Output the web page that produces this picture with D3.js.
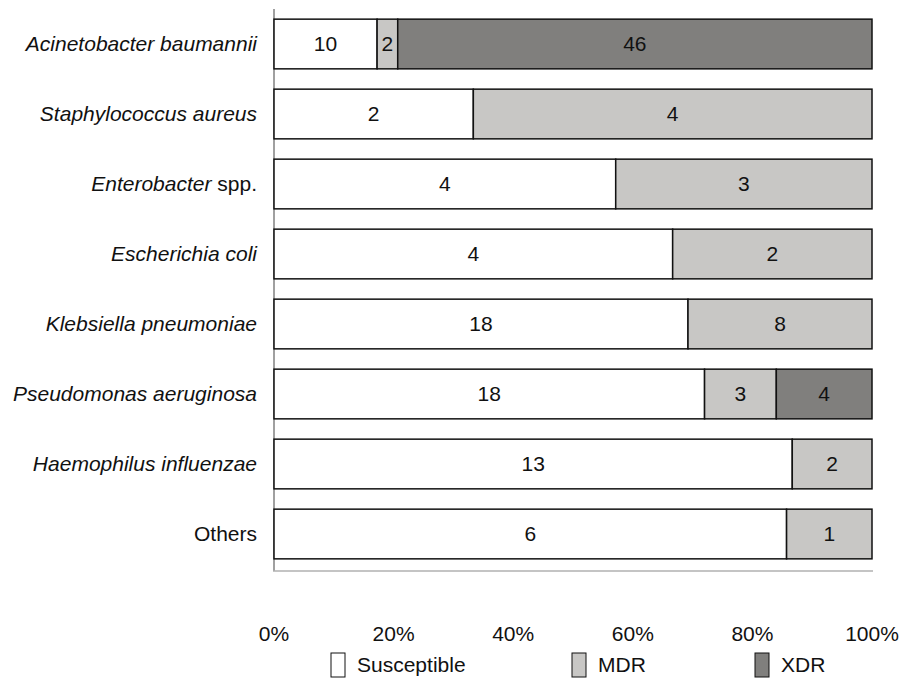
<!DOCTYPE html>
<html><head><meta charset="utf-8">
<script src="https://cdn.jsdelivr.net/npm/d3@7"></script>
<style>body{margin:0;background:#fff;} text{font-family:"Liberation Sans",Arial,sans-serif;}</style>
</head><body>
<svg id="c" width="902" height="683"></svg>
<script>
const categories = ["Acinetobacter baumannii","Staphylococcus aureus","Enterobacter spp.","Escherichia coli","Klebsiella pneumoniae","Pseudomonas aeruginosa","Haemophilus influenzae","Others"];
const susceptible = [10,2,4,4,18,18,13,6];
const mdr = [2,4,3,2,8,3,2,1];
const xdr = [46,0,0,0,0,4,0,0];
const seriesNames = ["Susceptible","MDR","XDR"];
const seriesColors = ["#ffffff","#c8c7c5","#807f7d"];
const tickLabels = ["0%","20%","40%","60%","80%","100%"];

const FS = 21;
const svg = d3.select("#c");
const x = d3.scaleLinear().domain([0,1]).range([274,872]);
const y = d3.scaleBand().domain(categories).range([9,569]).paddingInner(0.29).paddingOuter(0.145);

const rows = categories.map((c,i)=>({cat:c, vals:[susceptible[i],mdr[i],xdr[i]]}));
rows.forEach(r=>{
  const total = d3.sum(r.vals);
  let acc = 0;
  r.segs = r.vals.map((v,k)=>{const s={k, v, x0:acc/total, x1:(acc+v)/total}; acc+=v; return s;}).filter(s=>s.v>0);
});

// axes lines
svg.append("line").attr("x1",x(0)).attr("x2",x(0)).attr("y1",9).attr("y2",571).attr("stroke","#a0a0a0").attr("stroke-width",2);
svg.append("line").attr("x1",x(0)-1).attr("x2",x(1)+1).attr("y1",571).attr("y2",571).attr("stroke","#b0b0b0").attr("stroke-width",1.5);

const g = svg.selectAll("g.row").data(rows).join("g").attr("class","row");
g.selectAll("rect").data(d=>d.segs.map(s=>({...s,cat:d.cat}))).join("rect")
  .attr("x",d=>x(d.x0)).attr("width",d=>x(d.x1)-x(d.x0))
  .attr("y",d=>y(d.cat)).attr("height",y.bandwidth())
  .attr("fill",d=>seriesColors[d.k]).attr("stroke","#111").attr("stroke-width",1.5);
g.selectAll("text").data(d=>d.segs.map(s=>({...s,cat:d.cat}))).join("text")
  .attr("x",d=>(x(d.x0)+x(d.x1))/2).attr("y",d=>y(d.cat)+y.bandwidth()/2+7)
  .attr("text-anchor","middle").attr("font-size",FS).attr("fill","#111").text(d=>d.v);

// category labels
categories.forEach(c=>{
  const t = svg.append("text").attr("x",257).attr("y",y(c)+y.bandwidth()/2+7)
    .attr("text-anchor","end").attr("font-size",FS).attr("fill","#111");
  if (c.endsWith(" spp.")) {
    t.append("tspan").attr("font-style","italic").text(c.replace(" spp.",""));
    t.append("tspan").text(" spp.");
  } else if (c==="Others") {
    t.text(c);
  } else {
    t.attr("font-style","italic").text(c);
  }
});

// x tick labels
const ticks = d3.range(0,1.0001,0.2);
svg.selectAll("text.tick").data(ticks).join("text").attr("class","tick")
  .attr("x",d=>x(d)).attr("y",641).attr("text-anchor","middle").attr("font-size",FS).attr("fill","#111")
  .text((d,i)=>tickLabels[i]);

// legend
const legendX = [331,572,755];
seriesNames.forEach((n,i)=>{
  svg.append("rect").attr("x",legendX[i]).attr("y",653).attr("width",14).attr("height",24)
    .attr("fill",seriesColors[i]).attr("stroke","#111").attr("stroke-width",1);
  svg.append("text").attr("x",legendX[i]+26).attr("y",672).attr("font-size",FS).attr("fill","#111").text(n);
});
</script>
</body></html>
